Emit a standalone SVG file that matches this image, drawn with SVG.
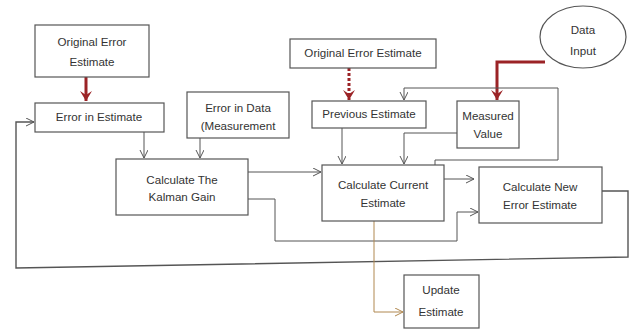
<svg xmlns="http://www.w3.org/2000/svg" width="633" height="331" viewBox="0 0 633 331">
<style>
.box{fill:#fff;stroke:#555;stroke-width:1.2}
.t{font-family:"Liberation Sans",Arial,sans-serif;font-size:11.6px;fill:#333;text-anchor:middle}
.c{fill:none;stroke:#555;stroke-width:1}
.r{fill:none;stroke:#9b2326;stroke-width:3}
</style>
<defs>
<marker id="a" markerUnits="userSpaceOnUse" markerWidth="10" markerHeight="10" refX="8" refY="4" orient="auto"><path d="M0,0 L8,4 L0,8" fill="none" stroke="#555" stroke-width="1"/></marker>
<marker id="at" markerUnits="userSpaceOnUse" markerWidth="10" markerHeight="10" refX="8" refY="4" orient="auto"><path d="M0,0 L8,4 L0,8" fill="none" stroke="#b08850" stroke-width="1"/></marker>
<marker id="ar" markerUnits="userSpaceOnUse" markerWidth="14" markerHeight="14" refX="10" refY="6" orient="auto"><path d="M0,0 L10,6 L0,12 L4,6 Z" fill="#9b2326"/></marker>
</defs>
<rect width="633" height="331" fill="#fff"/>
<g id="connectors">
<path class="r" d="M86,77 L86,101" marker-end="url(#ar)"/>
<path class="c" d="M602,191 L628,191 L628,257 L16,268 L16,122 L34,122" marker-end="url(#a)" style="stroke-width:1.4"/>
<path class="c" d="M144,132 L144,158" marker-end="url(#a)"/>
<path class="c" d="M200,138 L200,158" marker-end="url(#a)"/>
<path class="c" d="M248,172 L321,172" marker-end="url(#a)"/>
<path class="c" d="M248,199 L275,199 L275,241 L457,241 L457,212 L478,212" marker-end="url(#a)"/>
<path class="r" d="M349,68 L349,100" stroke-dasharray="3,2" marker-end="url(#ar)"/>
<path class="r" d="M545,62 L497,62 L497,100" marker-end="url(#ar)"/>
<path class="c" d="M435,165 L435,160 L558,160 L558,88 L404,88 L404,100" marker-end="url(#a)"/>
<path class="c" d="M457,133 L404,133 L404,164" marker-end="url(#a)"/>
<path class="c" d="M342,128 L342,164" marker-end="url(#a)"/>
<path class="c" d="M444,179 L474,179" marker-end="url(#a)"/>
<path class="c" d="M374,221 L374,312 L403,312" style="stroke:#b08850" marker-end="url(#at)"/>
</g>
<g id="orig1"><rect class="box" x="35" y="25" width="114" height="52"/><text class="t" x="92" y="46">Original Error</text><text class="t" x="92" y="66">Estimate</text></g>
<g id="errest"><rect class="box" x="35" y="103" width="129" height="29"/><text class="t" x="99" y="121">Error in Estimate</text></g>
<g id="errdata"><rect class="box" x="187" y="92" width="102" height="46"/><text class="t" x="238" y="112">Error in Data</text><text class="t" x="238" y="130">(Measurement</text></g>
<g id="kalman"><rect class="box" x="116" y="159" width="132" height="56"/><text class="t" x="182" y="184">Calculate The</text><text class="t" x="182" y="201">Kalman Gain</text></g>
<g id="orig2"><rect class="box" x="290" y="39" width="146" height="29"/><text class="t" x="363" y="57">Original Error Estimate</text></g>
<g id="prev"><rect class="box" x="312" y="101" width="114" height="27"/><text class="t" x="369" y="118">Previous Estimate</text></g>
<g id="measured"><rect class="box" x="457" y="101" width="62" height="47"/><text class="t" x="488" y="120">Measured</text><text class="t" x="488" y="138">Value</text></g>
<g id="datainput"><ellipse cx="583" cy="37" rx="43" ry="31" fill="#fff" stroke="#555" stroke-width="1.2"/><text class="t" x="583" y="34">Data</text><text class="t" x="583" y="55">Input</text></g>
<g id="current"><rect class="box" x="322" y="165" width="122" height="56"/><text class="t" x="383" y="189">Calculate Current</text><text class="t" x="383" y="207">Estimate</text></g>
<g id="newerr"><rect class="box" x="479" y="167" width="123" height="56"/><text class="t" x="540" y="191">Calculate New</text><text class="t" x="540" y="209">Error Estimate</text></g>
<g id="update"><rect class="box" x="404" y="275" width="75" height="53"/><text class="t" x="441" y="294">Update</text><text class="t" x="441" y="316">Estimate</text></g>
</svg>
